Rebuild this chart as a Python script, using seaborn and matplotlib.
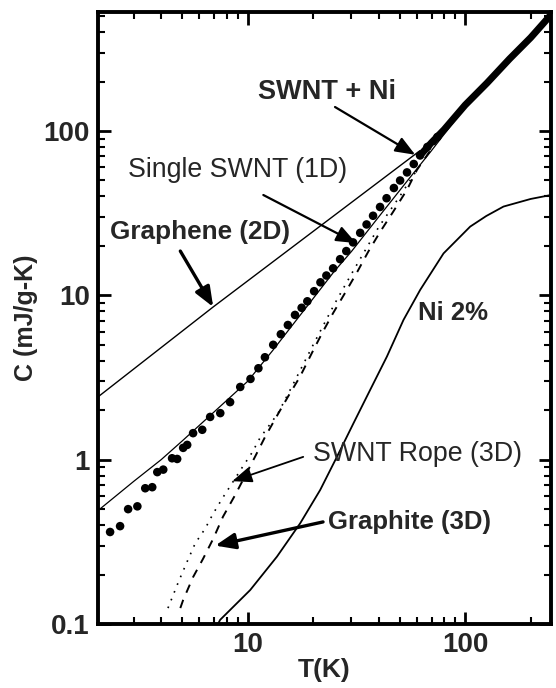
import matplotlib
matplotlib.use("Agg")
import matplotlib.pyplot as plt
import seaborn as sns
import pandas as pd
from matplotlib.ticker import FixedLocator, FixedFormatter, LogLocator, NullFormatter

# ---------------- data ----------------
# measured SWNT + Ni data (dots)
dots_T = [2.33, 2.59, 2.82, 3.11, 3.38, 3.64, 3.84, 4.09, 4.49, 4.74, 5.05, 5.27,
          5.61, 6.18, 6.72, 7.48, 8.3, 9.24, 10.3, 11.2, 12.0, 13.1, 14.2, 15.3,
          16.5, 17.7, 18.8, 20.2, 21.6, 23.0, 24.7, 26.6, 28.4, 30.5, 32.9, 35.2,
          37.7, 40.6, 43.5, 47.0, 50.2, 54.0, 58.0, 62.0, 67.0, 74.5]
dots_C = [0.363, 0.394, 0.50, 0.52, 0.67, 0.68, 0.84, 0.87, 1.02, 1.01, 1.18, 1.23,
          1.45, 1.52, 1.82, 1.92, 2.24, 2.77, 3.1, 3.6, 4.2, 5.0, 5.8, 6.6,
          7.6, 8.4, 9.2, 10.6, 12.0, 13.2, 14.6, 16.6, 18.6, 21.0, 24.0, 27.0,
          30.5, 34.5, 39.0, 45.0, 50.0, 56.0, 63.0, 71.0, 80.0, 92.0]
# dense high-T data (drawn as a thick line)
dense_T = [62, 70, 80, 100, 126, 160, 200, 248]
dense_C = [71, 85, 102, 144, 196, 275, 370, 510]

# Single SWNT (1D)
swnt1d_T = [2.05, 3, 4, 5, 7, 10, 13, 18, 25, 30, 40, 55, 70, 100, 150, 248]
swnt1d_C = [0.49, 0.74, 1.0, 1.3, 1.95, 3.0, 4.6, 8.0, 14, 18.5, 30, 51, 76, 140, 250, 510]

# Graphene (2D)
graphene_T = [2.05, 6.94, 62]
graphene_C = [2.41, 8.5, 76]

# SWNT Rope (3D)
rope_T = [4.3, 4.8, 5.27, 5.74, 6.37, 6.94, 7.7, 9.4, 10.5, 11.4, 12.4, 13.8,
          16, 20, 25, 30, 40, 50, 60]
rope_C = [0.125, 0.18, 0.24, 0.31, 0.38, 0.47, 0.59, 0.89, 1.11, 1.36, 1.58, 1.92,
          2.8, 5.0, 8.8, 13.5, 26, 40, 58]

# Graphite (3D)
graphite_T = [4.9, 5.05, 5.61, 6.24, 6.94, 7.7, 8.76, 10.8, 12.0, 13.7, 15.3, 17.4,
              19.8, 22.0, 24.7, 28.1, 31.9, 35.8, 40.6, 46.6, 54, 60, 70, 80]
graphite_C = [0.125, 0.14, 0.193, 0.25, 0.33, 0.45, 0.61, 1.04, 1.37, 1.87, 2.41, 3.2,
              4.5, 5.9, 7.8, 10.4, 13.9, 18.4, 24.3, 32.2, 43.9, 58, 78, 100]

# Ni 2%
ni_T = [7.3, 7.47, 10.27, 13.63, 17.43, 21.54, 25.71, 30.64, 36.57, 43.65, 52.04,
        62.1, 79.5, 105.4, 125, 150, 200, 248]
ni_C = [0.1, 0.106, 0.161, 0.257, 0.410, 0.654, 1.04, 1.665, 2.66, 4.24, 7.09,
        10.8, 18.0, 26.2, 30.4, 34.7, 38.6, 40.8]

y_ticks = [0.1, 1, 10, 100]
y_tick_labels = ["0.1", "1", "10", "100"]
x_ticks = [10, 100]
x_tick_labels = ["10", "100"]

# ---------------- style ----------------
sns.set_style("ticks")
plt.rcParams['font.family'] = ['Liberation Sans', 'DejaVu Sans']

fig = plt.figure(figsize=(5.56, 6.88), dpi=100)
ax = fig.add_axes([98/556, 64/688, 453/556, 612/688])

def line(T, C, **kw):
    df = pd.DataFrame({"T": T, "C": C})
    sns.lineplot(data=df, x="T", y="C", ax=ax, sort=False, estimator=None,
                 color="black", **kw)

line(graphene_T, graphene_C, linewidth=1.0)
line(ni_T, ni_C, linewidth=1.3)
line(swnt1d_T, swnt1d_C, linewidth=0.9)
line(rope_T, rope_C, linewidth=1.2, linestyle=(0, (1, 4)))
line(graphite_T, graphite_C, linewidth=1.4, linestyle=(0, (4.5, 4)))
line(dense_T, dense_C, linewidth=5.0, solid_capstyle="round")

sns.scatterplot(x=dots_T, y=dots_C, ax=ax, s=38, color="black", edgecolor="none",
                zorder=5)

ax.set_xscale("log")
ax.set_yscale("log")
ax.set_xlim(2.05, 248)
ax.set_ylim(0.1, 530)

ax.xaxis.set_major_locator(FixedLocator(x_ticks))
ax.xaxis.set_major_formatter(FixedFormatter(x_tick_labels))
ax.yaxis.set_major_locator(FixedLocator(y_ticks))
ax.yaxis.set_major_formatter(FixedFormatter(y_tick_labels))
ax.xaxis.set_minor_locator(LogLocator(base=10, subs=range(2, 10)))
ax.yaxis.set_minor_locator(LogLocator(base=10, subs=range(2, 10)))
ax.xaxis.set_minor_formatter(NullFormatter())
ax.yaxis.set_minor_formatter(NullFormatter())

ax.tick_params(which="both", direction="in", top=True, right=True, color="black")
ax.tick_params(which="major", length=9, width=2.0, labelsize=20, pad=6)
ax.tick_params(which="minor", length=5, width=1.5)
for lab in ax.get_xticklabels() + ax.get_yticklabels():
    lab.set_fontweight("bold")

for sp in ax.spines.values():
    sp.set_linewidth(2.8)
    sp.set_color("black")
    sp.set_visible(True)

ax.set_xlabel("T(K)", fontsize=19, fontweight="bold", labelpad=0)
ax.set_ylabel("C (mJ/g-K)", fontsize=18, fontweight="bold", labelpad=4)

# ---------------- annotations ----------------
def arrow(xy_to, xy_from, lw):
    ax.annotate("", xy=xy_to, xytext=xy_from,
                arrowprops=dict(arrowstyle="-|>,head_length=0.8,head_width=0.32",
                                lw=lw, color="black", shrinkA=0, shrinkB=0,
                                mutation_scale=15))

ax.text(11.2, 173, "SWNT + Ni", fontsize=19.5, fontweight="bold", va="center", ha="left")
arrow((58.9, 71.7), (25.2, 140), 1.6)
ax.text(2.82, 58, "Single SWNT (1D)", fontsize=19.3, va="center", ha="left")
arrow((31.5, 20.8), (11.8, 40.8), 1.6)
ax.text(2.33, 24.3, "Graphene (2D)", fontsize=18.8, fontweight="bold", va="center", ha="left")
arrow((6.94, 8.5), (4.9, 18.6), 2.4)
ax.text(60.8, 7.8, "Ni 2%", fontsize=18.5, fontweight="bold", va="center", ha="left")
ax.text(20, 1.08, "SWNT Rope (3D)", fontsize=19.3, va="center", ha="left")
arrow((8.49, 0.74), (18.0, 1.04), 1.3)
ax.text(23.4, 0.42, "Graphite (3D)", fontsize=18.5, fontweight="bold", va="center", ha="left")
arrow((7.09, 0.30), (22.2, 0.418), 2.4)

fig.savefig("out.png", dpi=100)
